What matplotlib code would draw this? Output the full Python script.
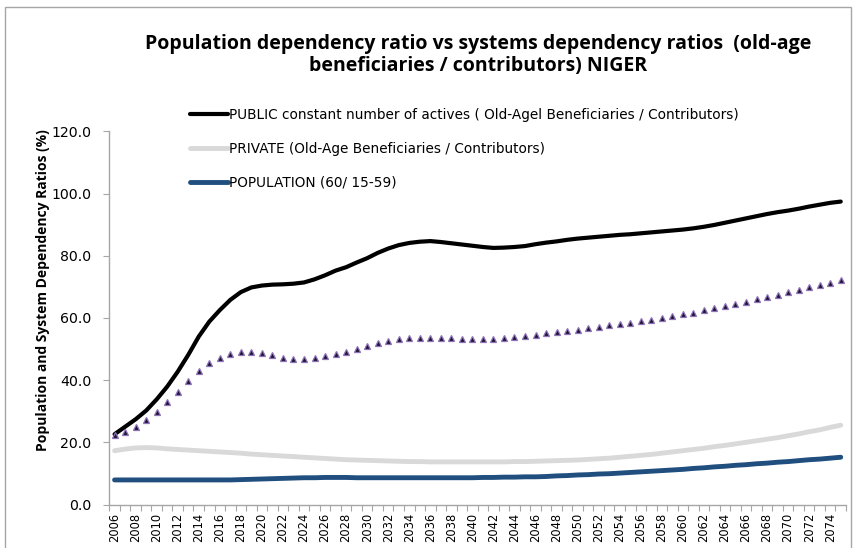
#!/usr/bin/env python3
import matplotlib
matplotlib.use("Agg")
import matplotlib.pyplot as plt
from matplotlib.patches import Rectangle
from matplotlib.ticker import MultipleLocator, FixedLocator, FormatStrFormatter

# ─── data ─────────────────────────────────────────────────────
years = list(range(2006, 2076))

public_vals = [
    22.6, 25.0, 27.4, 30.2, 33.8, 37.9, 42.7, 48.1, 54.0, 58.8,
    62.5, 65.8, 68.3, 69.8, 70.4, 70.7, 70.8, 71.0, 71.4, 72.4,
    73.7, 75.2, 76.3, 77.8, 79.2, 80.9, 82.3, 83.4, 84.1, 84.5,
    84.7, 84.4, 84.0, 83.6, 83.2, 82.8, 82.5, 82.6, 82.8, 83.1,
    83.7, 84.2, 84.6, 85.1, 85.5, 85.8, 86.1, 86.4, 86.7, 86.9,
    87.2, 87.5, 87.8, 88.1, 88.4, 88.8, 89.3, 89.9, 90.6, 91.3,
    92.0, 92.7, 93.4, 94.0, 94.5, 95.1, 95.8, 96.4, 97.0, 97.4,
]

trend_vals = [
    22.3, 23.4, 25.0, 27.2, 29.8, 32.9, 36.3, 39.7, 42.8, 45.5,
    47.2, 48.4, 49.1, 49.1, 48.6, 48.0, 47.2, 46.9, 46.9, 47.1,
    47.7, 48.4, 49.1, 50.0, 51.1, 51.9, 52.7, 53.2, 53.4, 53.6,
    53.6, 53.4, 53.4, 53.2, 53.2, 53.2, 53.2, 53.4, 53.7, 54.2,
    54.5, 55.0, 55.4, 55.7, 56.1, 56.6, 57.2, 57.6, 58.0, 58.5,
    58.9, 59.4, 60.0, 60.5, 61.1, 61.7, 62.4, 63.1, 63.7, 64.5,
    65.2, 66.0, 66.7, 67.5, 68.2, 69.0, 69.8, 70.5, 71.3, 72.2,
]

private_vals = [
    17.3, 17.8, 18.2, 18.3, 18.2, 17.9, 17.7, 17.5, 17.3, 17.1,
    16.9, 16.7, 16.5, 16.2, 16.0, 15.8, 15.6, 15.4, 15.2, 15.0,
    14.8, 14.6, 14.4, 14.3, 14.2, 14.1, 14.0, 13.9, 13.8, 13.8,
    13.7, 13.7, 13.7, 13.7, 13.7, 13.7, 13.7, 13.7, 13.8, 13.8,
    13.9, 14.0, 14.1, 14.2, 14.3, 14.5, 14.7, 14.9, 15.2, 15.5,
    15.8, 16.1, 16.5, 16.9, 17.3, 17.7, 18.1, 18.6, 19.0, 19.5,
    20.0, 20.5, 21.0, 21.5, 22.1, 22.7, 23.4, 24.0, 24.8, 25.5,
]

population_vals = [
    7.9, 7.9, 7.9, 7.9, 7.9, 7.9, 7.9, 7.9, 7.9, 7.9,
    7.9, 7.9, 8.0, 8.1, 8.2, 8.3, 8.4, 8.5, 8.6, 8.6,
    8.7, 8.7, 8.7, 8.6, 8.6, 8.6, 8.6, 8.6, 8.6, 8.6,
    8.6, 8.6, 8.6, 8.6, 8.6, 8.7, 8.7, 8.8, 8.8, 8.9,
    8.9, 9.0, 9.2, 9.3, 9.5, 9.6, 9.8, 9.9, 10.1, 10.3,
    10.5, 10.7, 10.9, 11.1, 11.3, 11.6, 11.8, 12.1, 12.3, 12.6,
    12.8, 13.1, 13.3, 13.6, 13.8, 14.1, 14.4, 14.6, 14.9, 15.2,
]

labels = [
    "PUBLIC constant number of actives ( Old-Agel Beneficiaries / Contributors)",
    "PRIVATE (Old-Age Beneficiaries / Contributors)",
    "POPULATION (60/ 15-59)",
]
title = ("Population dependency ratio vs systems dependency ratios  (old-age\n"
         "beneficiaries / contributors) NIGER")
ylabel = "Population and System Dependency Ratios (%)"

HEAD_FONT = ["Open Sans", "Liberation Sans", "DejaVu Sans"]

# ─── figure ───────────────────────────────────────────
W, H = 854, 548
fig = plt.figure(figsize=(W / 100, H / 100), dpi=100)
ax = fig.add_axes([109.3 / W, 43.5 / H, (846 - 109.3) / W, (504.5 - 131.3) / H])

# outer chart frame
fig.patches.append(Rectangle((5 / W, -0.02), 846 / W, 1 - 7 / H + 0.02,
                             transform=fig.transFigure, fill=False,
                             edgecolor="#a6a6a6", linewidth=1.0))

l_pub, = ax.plot(years, public_vals, color="black", lw=3.0,
                 solid_capstyle="round", zorder=4)
ax.plot(years, trend_vals, linestyle="none", marker="^", markersize=4.2,
        markerfacecolor="#1c1433", markeredgecolor="#8e72b8",
        markeredgewidth=0.9, zorder=5)
l_priv, = ax.plot(years, private_vals, color="#d9d9d9", lw=3.5,
                  solid_capstyle="round", zorder=3)
l_pop, = ax.plot(years, population_vals, color="#1f4e7f", lw=3.5,
                 solid_capstyle="round", zorder=3)

ax.set_xlim(2005.5, 2075.5)
ax.set_ylim(0, 120)

# y axis
ax.yaxis.set_major_locator(MultipleLocator(20))
ax.yaxis.set_major_formatter(FormatStrFormatter("%.1f"))
ax.tick_params(axis="y", direction="out", length=4, width=0.8,
               color="#a6a6a6", labelsize=10.2, pad=9)

# x axis: tick marks between categories, labels every 2 years
ax.xaxis.set_minor_locator(FixedLocator([y - 0.5 for y in years] + [2075.5]))
ax.set_xticks(years[::2])
ax.set_xticklabels([str(y) for y in years[::2]], rotation=90)
ax.tick_params(axis="x", which="major", length=0, labelsize=8.3, pad=6)
ax.tick_params(axis="x", which="minor", direction="out", length=4,
               width=0.8, color="#a6a6a6")

for s in ("top", "right"):
    ax.spines[s].set_visible(False)
for s in ("left", "bottom"):
    ax.spines[s].set_color("#a6a6a6")
    ax.spines[s].set_linewidth(1.0)

fig.text(43 / W, 1 - 290 / H, ylabel, rotation=90, ha="center", va="center",
         fontsize=10, fontweight="bold", family=HEAD_FONT)

fig.text(478 / W, 1 - 55 / H, title, ha="center", va="center",
         fontsize=14, fontweight="bold", family=HEAD_FONT, linespacing=1.12)

fig.legend([l_pub, l_priv, l_pop], labels, loc="upper left",
           bbox_to_anchor=(190 / W, 1 - 108 / H), frameon=False,
           fontsize=9.8, handlelength=2.8, handletextpad=0.1,
           labelspacing=1.45, borderpad=0, borderaxespad=0)

fig.savefig("out.png", dpi=100)
plt.close(fig)
